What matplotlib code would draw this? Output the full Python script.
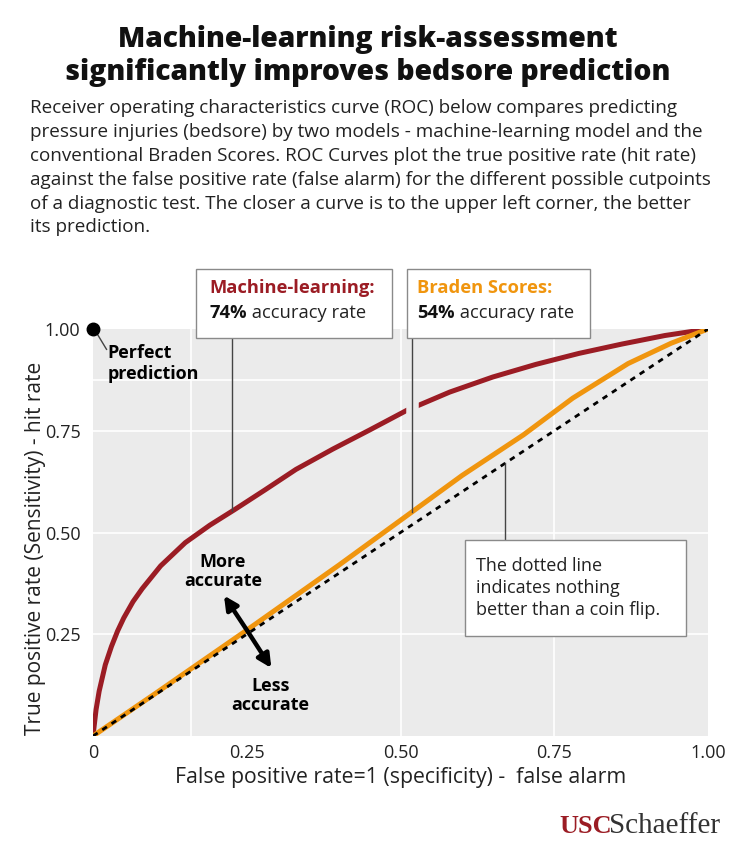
import matplotlib
matplotlib.use("Agg")
import matplotlib.pyplot as plt
from matplotlib.patches import Rectangle
import numpy as np

plt.rcParams['font.family'] = ['Open Sans', 'DejaVu Sans']

# ROC curves
fpr_ml = [0, 0.005, 0.01, 0.02, 0.03, 0.04, 0.05, 0.065, 0.08, 0.11, 0.15, 0.19, 0.23, 0.28,
          0.33, 0.39, 0.45, 0.51, 0.58, 0.65, 0.72, 0.79, 0.86, 0.93, 1.0]
tpr_ml = [0, 0.065, 0.11, 0.175, 0.22, 0.258, 0.29, 0.33, 0.362, 0.418, 0.475, 0.518, 0.556, 0.605,
          0.655, 0.705, 0.752, 0.80, 0.845, 0.882, 0.913, 0.94, 0.963, 0.984, 1.0]

fpr_braden = [0, 0.1, 0.25, 0.4, 0.5, 0.6, 0.7, 0.78, 0.87, 0.94, 1.0]
tpr_braden = [0, 0.103, 0.26, 0.42, 0.53, 0.64, 0.74, 0.83, 0.915, 0.965, 1.0]

coin = [0, 1]

xticks = [0, 0.25, 0.5, 0.75, 1.0]
xticklabels = ['0', '0.25', '0.50', '0.75', '1.00']
yticks = [0.25, 0.5, 0.75, 1.0]
yticklabels = ['0.25', '0.50', '0.75', '1.00']

red = '#9b1c24'
orange = '#f0950e'
panel = '#ebebeb'
ink = '#222222'

fig = plt.figure(figsize=(7.36, 8.48), dpi=100)
ax = fig.add_axes([93 / 736, 1 - 736 / 848, 615 / 736, 407 / 848])
ax.set_facecolor(panel)
ax.set_xlim(0, 1)
ax.set_ylim(0, 1)
for s in ax.spines.values():
    s.set_visible(False)

# gridlines (as in the reference, not all on the ticks)
for gy in [0.25, 0.5, 0.75, 0.875]:
    ax.axhline(gy, color='white', lw=1.2, zorder=1)
for gx in [0.16, 0.5, 0.75]:
    ax.axvline(gx, color='white', lw=1.2, zorder=1)

ax.set_xticks(xticks)
ax.set_xticklabels(xticklabels)
ax.set_yticks(yticks)
ax.set_yticklabels(yticklabels)
ax.tick_params(length=0, labelsize=13, colors=ink)
ax.tick_params(axis='x', pad=6)
ax.tick_params(axis='y', pad=9)

ax.set_xlabel('False positive rate=1 (specificity) -  false alarm', fontsize=15.3, color=ink, labelpad=3)
ax.set_ylabel('True positive rate (Sensitivity) - hit rate', fontsize=15, color=ink)
ax.yaxis.set_label_coords(-0.076, 0.46)

# curves
ax.plot(fpr_ml, tpr_ml, color=red, lw=3.6, zorder=3, solid_capstyle='round')
ax.plot(fpr_braden, tpr_braden, color=orange, lw=3.6, zorder=3)
ax.plot(coin, coin, color='black', lw=2, ls=(0, (2, 2)), zorder=4)

# perfect prediction
ax.plot([0], [1], 'o', color='black', ms=9, clip_on=False, zorder=6)
ax.plot([0.006, 0.022], [0.99, 0.95], color='#444444', lw=1, zorder=5)
ax.text(0.024, 0.915, 'Perfect\nprediction', fontsize=13, fontweight='bold',
        va='center', ha='left', linespacing=1.25)

# more / less accurate arrow
arrow = dict(arrowstyle='-|>,head_length=0.8,head_width=0.4', color='black', lw=3.2, shrinkA=0, shrinkB=0)
ax.annotate('', xy=(0.213, 0.345), xytext=(0.252, 0.256), arrowprops=arrow, zorder=6)
ax.annotate('', xy=(0.29, 0.167), xytext=(0.252, 0.256), arrowprops=arrow, zorder=6)
ax.text(0.211, 0.404, 'More\naccurate', fontsize=13, fontweight='bold', ha='center', va='center', linespacing=1.05)
ax.text(0.288, 0.10, 'Less\naccurate', fontsize=13, fontweight='bold', ha='center', va='center', linespacing=1.05)

# annotation boxes
def box(x0, x1, y0, y1):
    ax.add_patch(Rectangle((x0, y0), x1 - x0, y1 - y0, facecolor='white', edgecolor='#8a8a8a',
                           lw=1, clip_on=False, zorder=7))

box(0.167, 0.486, 0.978, 1.147)
box(0.51, 0.808, 0.978, 1.147)
box(0.605, 0.964, 0.246, 0.482)

# leaders
x_ml = 0.226
ax.plot([x_ml, x_ml], [0.978, np.interp(x_ml, fpr_ml, tpr_ml)], color='#444444', lw=1, zorder=5)
x_br = 0.519
y_cross = np.interp(x_br, fpr_ml, tpr_ml)
ax.plot([x_br, x_br], [y_cross - 0.03, y_cross + 0.03], color=panel, lw=9, zorder=3.5)
ax.plot([x_br, x_br], [0.978, np.interp(x_br, fpr_braden, tpr_braden)], color='#444444', lw=1, zorder=5)
x_cf = 0.67
ax.plot([x_cf, x_cf], [0.482, x_cf], color='#444444', lw=1, zorder=5)

ax.text(0.19, 1.1, 'Machine-learning:', fontsize=13.2, fontweight='bold', color=red, zorder=8, va='center')
t = ax.text(0.19, 1.04, '74%', fontsize=13.2, fontweight='bold', color='#111111', zorder=8, va='center')
ax.annotate(' accuracy rate', xy=(1, 0.5), xycoords=t, va='center', fontsize=13.2, color=ink, zorder=8)

ax.text(0.527, 1.1, 'Braden Scores:', fontsize=13.2, fontweight='bold', color=orange, zorder=8, va='center')
t2 = ax.text(0.527, 1.04, '54%', fontsize=13.2, fontweight='bold', color='#111111', zorder=8, va='center')
ax.annotate(' accuracy rate', xy=(1, 0.5), xycoords=t2, va='center', fontsize=13.2, color=ink, zorder=8)

ax.text(0.622, 0.364, 'The dotted line\nindicates nothing\nbetter than a coin flip.', fontsize=13,
        color=ink, va='center', ha='left', linespacing=1.3, zorder=8)

# title and intro text
fig.text(0.5, 1 - 56 / 848, 'Machine-learning risk-assessment\nsignificantly improves bedsore prediction',
         ha='center', va='center', fontsize=20.3, fontweight='heavy', linespacing=1.15, color='#111111')
fig.text(30 / 736, 1 - 99 / 848,
         'Receiver operating characteristics curve (ROC) below compares predicting\n'
         'pressure injuries (bedsore) by two models - machine-learning model and the\n'
         'conventional Braden Scores. ROC Curves plot the true positive rate (hit rate)\n'
         'against the false positive rate (false alarm) for the different possible cutpoints\n'
         'of a diagnostic test. The closer a curve is to the upper left corner, the better\n'
         'its prediction.',
         ha='left', va='top', fontsize=13.6, linespacing=1.42, color=ink)

# logo
fig.text(559 / 736, 1 - 833 / 848, 'USC', fontsize=19, fontweight='bold', color=red,
         family='Liberation Serif', va='baseline', ha='left')
fig.text(609 / 736, 1 - 833 / 848, 'Schaeffer', fontsize=21, color='#333333',
         family='Liberation Serif', va='baseline', ha='left')

fig.savefig('out.png', dpi=100)
